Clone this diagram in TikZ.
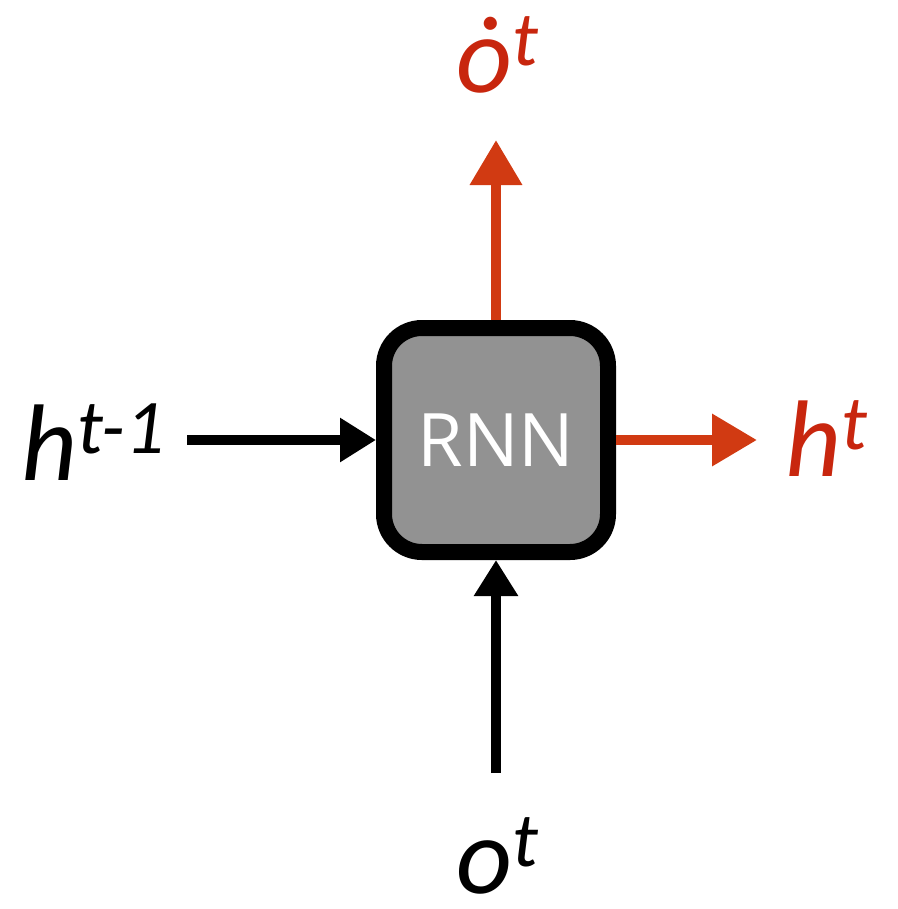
\documentclass[tikz,border=0pt]{standalone}
\usepackage{fontspec}
\newfontfamily\boxfont{Open Sans}
\newfontfamily\labelfont{Carlito}
\usetikzlibrary{arrows.meta,positioning}
\definecolor{arrowred}{RGB}{209,58,18}
\definecolor{labelred}{RGB}{200,38,14}
\definecolor{cellgray}{RGB}{146,146,146}
\newcommand{\sups}[1]{\raisebox{0.24em}{\fontsize{22}{24}\selectfont #1}}

\begin{document}
\begin{tikzpicture}[
    x=1cm, y=1cm,
    rnnbox/.style={draw=black, line width=1.6mm, fill=cellgray, rounded corners=3.8mm,
        minimum width=22.4mm, minimum height=22.4mm, text=white,
        font=\boxfont\fontsize{21}{24}\selectfont},
    vlabel/.style={anchor=base, inner sep=0pt, text depth=0pt,
        font=\labelfont\itshape\fontsize{31}{34}\selectfont},
    redarrow/.style={arrowred, line width=1mm, -{Triangle[length=4.5mm,width=5mm]}},
    blackarrow/.style={black, line width=0.95mm, -{Triangle[length=3.6mm,width=4.2mm]}}
]
    \useasboundingbox (0,0) rectangle (8.97,-9.09);

    % the cell
    \node[rnnbox] (rnn) at (4.96,-4.40) {RNN};

    % free ends of the connectors
    \coordinate (outtip) at (4.96,-1.40);
    \coordinate (hidtip) at (7.57,-4.40);
    \coordinate (prevtail) at (1.87,-4.40);
    \coordinate (intail) at (4.96,-7.73);

    \draw[redarrow] (rnn.north) -- (outtip);
    \draw[redarrow] (rnn.east) -- (hidtip);
    \draw[blackarrow] (prevtail) -- (rnn.west);
    \draw[blackarrow] (intail) -- (rnn.south);

    % labels
    \node[vlabel, labelred] (outlab) at (4.97,-0.92) {ȯ\sups{t}};
    \node[vlabel] (prevlab) at (0.93,-4.80) {h\sups{t-1}};
    \node[vlabel, labelred] (hidlab) at (8.26,-4.76) {h\sups{t}};
    \node[vlabel] (inlab) at (4.97,-8.93) {o\sups{t}};
\end{tikzpicture}
\end{document}
